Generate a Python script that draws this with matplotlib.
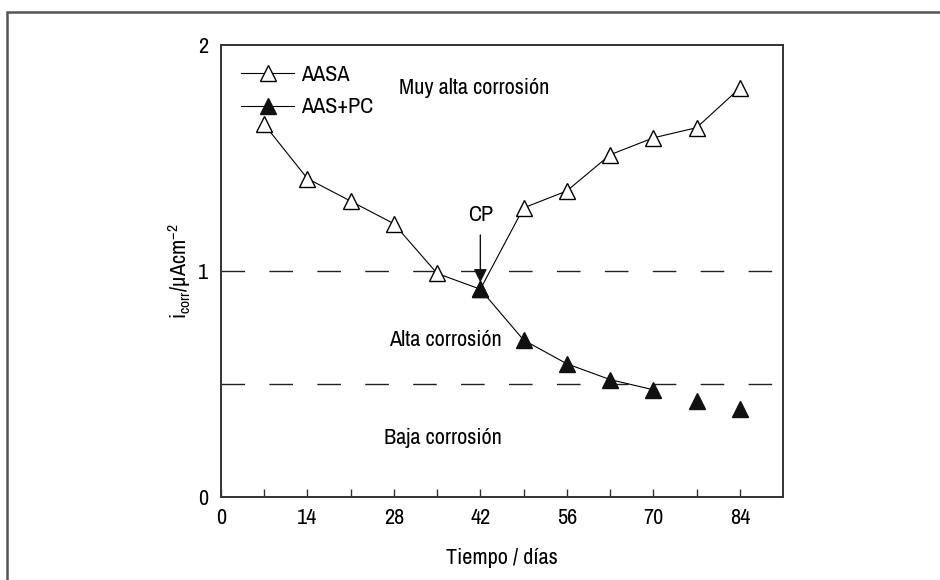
import numpy as np
import matplotlib
matplotlib.use("Agg")
import matplotlib.pyplot as plt
from matplotlib import font_manager
from matplotlib.patches import Rectangle

# fuente estrecha si existe (la original es tipo Futura condensada)
nombres = sorted({f.name for f in font_manager.fontManager.ttflist})
estrechas = [n for n in nombres if 'Narrow' in n or 'Condensed' in n or 'Cond' in n]
familia = estrechas[0] if estrechas else 'DejaVu Sans'
plt.rcParams['font.family'] = [familia, 'DejaVu Sans']
plt.rcParams['font.stretch'] = 'condensed'
plt.rcParams['mathtext.fontset'] = 'custom'
plt.rcParams['mathtext.rm'] = familia
plt.rcParams['mathtext.it'] = familia

#%% Datos
dias_aasa = [7, 14, 21, 28, 35, 42, 49, 56, 63, 70, 77, 84]
icorr_aasa = [1.65, 1.41, 1.31, 1.21, 0.99, 0.92, 1.28, 1.355, 1.515, 1.59, 1.635, 1.81]

dias_pc = [42, 49, 56, 63, 70]
icorr_pc = [0.92, 0.695, 0.59, 0.52, 0.475]
dias_pc_sueltos = [77, 84]
icorr_pc_sueltos = [0.425, 0.39]

umbrales = [1.0, 0.5]
xticks = [0, 14, 28, 42, 56, 70, 84]

#%% Figura
fig = plt.figure(figsize=(9.4, 5.8), dpi=100)
ax = fig.add_axes([0.235, 0.143, 0.598, 0.779])

# marco exterior
fig.patches.append(Rectangle((0.0075, -0.1), 1.5, 1.079, transform=fig.transFigure,
                             fill=False, edgecolor='#555555', linewidth=1.8))

for u in umbrales:
    ax.axhline(u, color='#222222', lw=1.0, dashes=(17, 17.5))

ax.plot(dias_aasa, icorr_aasa, '-^', color='black', lw=0.8, ms=11,
        mfc='white', mec='black', mew=1.0, label='AASA', zorder=3)
ax.plot(dias_pc, icorr_pc, '-^', color='black', lw=0.8, ms=11,
        mfc='#111111', mec='#111111', label='AAS+PC', zorder=4)
ax.plot(dias_pc_sueltos, icorr_pc_sueltos, '^', ms=11,
        mfc='#111111', mec='#111111', zorder=4)

# anotaciones
fs = 16
ax.annotate('', xy=(42, 0.95), xytext=(42, 1.16),
            arrowprops=dict(arrowstyle='-|>', color='#111111', lw=1.0,
                            mutation_scale=20, shrinkA=0, shrinkB=0))
ax.text(42, 1.25, 'CP', ha='center', va='center', fontsize=fs, fontweight='medium')
ax.text(41, 1.81, 'Muy alta corrosión', ha='center', va='center', fontsize=fs, fontweight='medium')
ax.text(36.3, 0.695, 'Alta corrosión', ha='center', va='center', fontsize=fs, fontweight='medium')
ax.text(36, 0.26, 'Baja corrosión', ha='center', va='center', fontsize=fs, fontweight='medium')

ax.set_xlim(0, 91)
ax.set_ylim(0, 2)
ax.set_xticks(xticks)
ax.set_xticks([7, 21, 35, 49, 63, 77], minor=True)
ax.set_yticks([0, 1, 2])
ax.tick_params(axis='x', which='both', direction='in', length=6, width=1,
               labelsize=fs, pad=8, color='#333333')
ax.tick_params(axis='y', length=0, labelsize=fs, pad=9)
for s in ax.spines.values():
    s.set_linewidth(1.4)
    s.set_color('#333333')

ax.set_xlabel('Tiempo / días', fontsize=fs, labelpad=14)
ax.set_ylabel(r'i$_{\mathregular{corr}}$/µAcm$^{\mathregular{-2}}$', fontsize=fs, labelpad=4)

ax.legend(loc='upper left', frameon=False, fontsize=fs, handlelength=2.4,
          handletextpad=0.3, borderaxespad=0.7, labelspacing=0.55,
          borderpad=0.2)

fig.savefig('out.png', dpi=100)
